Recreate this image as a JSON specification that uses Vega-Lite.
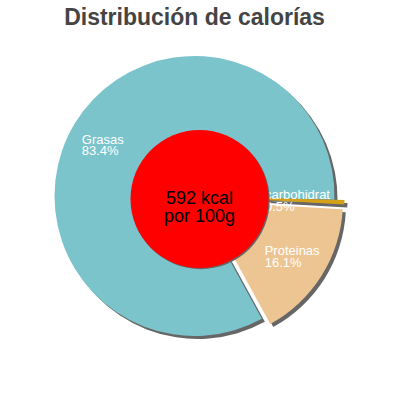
{
  "$schema": "https://vega.github.io/schema/vega-lite/v6.json",
  "width": 389,
  "height": 312,
  "autosize": {"type": "none"},
  "padding": {"left": 0, "top": 40, "right": 11, "bottom": 48},
  "title": {"text": "Distribución de calorías", "fontSize": 23, "font": "Liberation Sans", "fontWeight": "bold", "color": "#444444", "anchor": "middle", "offset": 10},
  "config": {"view": {"stroke": null}},
  "datasets": {
    "calorias": [
      {"nutriente": "Grasas", "valor": 83.4, "etiqueta": "Grasas\n83.4%"},
      {"nutriente": "carbohidratos", "valor": 0.5, "etiqueta": "carbohidratos\n0.5%"},
      {"nutriente": "Proteinas", "valor": 16.1, "etiqueta": "Proteinas\n16.1%"}
    ],
    "energia": [{"kcal": 592, "texto": "592 kcal\npor 100g"}]
  },
  "resolve": {"scale": {"theta": "independent"}},
  "layer": [
    {
      "data": {"name": "calorias"},
      "encoding": {
        "theta": {"field": "valor", "type": "quantitative", "stack": true, "scale": {"range": [1.597, 7.880]}},
        "order": {"field": "nutriente", "sort": "descending"},
        "color": {"field": "nutriente", "type": "nominal", "legend": null, "scale": {"domain": ["Grasas", "Proteinas", "carbohidratos"], "range": ["#7BC4CC", "#EDC592", "#D4A017"]}}
      },
      "layer": [
        {"mark": {"type": "arc", "outerRadius": 140, "fill": "#666666", "xOffset": 3, "yOffset": 3},
         "encoding": {"opacity": {"condition": {"test": "datum.nutriente === 'Grasas'", "value": 1}, "value": 0}}},
        {"mark": {"type": "arc", "outerRadius": 140, "fill": "#666666", "xOffset": 11.5, "yOffset": 8.3},
         "encoding": {"opacity": {"condition": {"test": "datum.nutriente === 'Proteinas'", "value": 1}, "value": 0}}},
        {"mark": {"type": "arc", "outerRadius": 140, "fill": "#666666", "xOffset": 13, "yOffset": 3.4},
         "encoding": {"opacity": {"condition": {"test": "datum.nutriente === 'carbohidratos'", "value": 1}, "value": 0}}},
        {"mark": {"type": "arc", "outerRadius": 140},
         "encoding": {"opacity": {"condition": {"test": "datum.nutriente === 'Grasas'", "value": 1}, "value": 0}}},
        {"mark": {"type": "arc", "outerRadius": 140, "xOffset": 8.5, "yOffset": 5.3},
         "encoding": {"opacity": {"condition": {"test": "datum.nutriente === 'Proteinas'", "value": 1}, "value": 0}}},
        {"mark": {"type": "arc", "outerRadius": 140, "xOffset": 10, "yOffset": 0.4},
         "encoding": {"opacity": {"condition": {"test": "datum.nutriente === 'carbohidratos'", "value": 1}, "value": 0}}},
        {"mark": {"type": "text", "radius": 132, "dy": 16.5, "align": "left", "baseline": "alphabetic", "fontSize": 13, "font": "Liberation Sans", "lineBreak": "\n", "lineHeight": 11.5},
         "encoding": {"color": {"value": "#FFFFFF"}, "text": {"condition": {"test": "datum.nutriente === 'Grasas'", "field": "etiqueta"}, "value": ""}}},
        {"mark": {"type": "text", "radius": 83, "dy": 15, "align": "left", "baseline": "alphabetic", "fontSize": 13, "font": "Liberation Sans", "lineBreak": "\n", "lineHeight": 11.5},
         "encoding": {"color": {"value": "#FFFFFF"}, "text": {"condition": {"test": "datum.nutriente === 'Proteinas'", "field": "etiqueta"}, "value": ""}}},
        {"mark": {"type": "text", "radius": 70.5, "dy": 0.5, "align": "left", "baseline": "alphabetic", "fontSize": 13, "font": "Liberation Sans", "lineBreak": "\n", "lineHeight": 11.5, "limit": 70, "ellipsis": "\u200b"},
         "encoding": {"color": {"value": "#FFFFFF"}, "text": {"condition": {"test": "datum.nutriente === 'carbohidratos'", "field": "etiqueta"}, "value": ""}}}
      ]
    },
    {
      "data": {"name": "energia"},
      "mark": {"type": "arc", "outerRadius": 69, "fill": "#666666", "xOffset": 6.2, "yOffset": 4.2},
      "encoding": {"theta": {"field": "kcal", "type": "quantitative"}}
    },
    {
      "data": {"name": "energia"},
      "mark": {"type": "arc", "outerRadius": 69, "fill": "#FF0000", "xOffset": 5, "yOffset": 3},
      "encoding": {"theta": {"field": "kcal", "type": "quantitative"}}
    },
    {
      "data": {"name": "energia"},
      "mark": {"type": "text", "fontSize": 18, "font": "Liberation Sans", "color": "#000000", "align": "center", "baseline": "middle", "lineBreak": "\n", "lineHeight": 18, "xOffset": 5, "yOffset": 3},
      "encoding": {"text": {"field": "texto", "type": "nominal"}}
    }
  ]
}
